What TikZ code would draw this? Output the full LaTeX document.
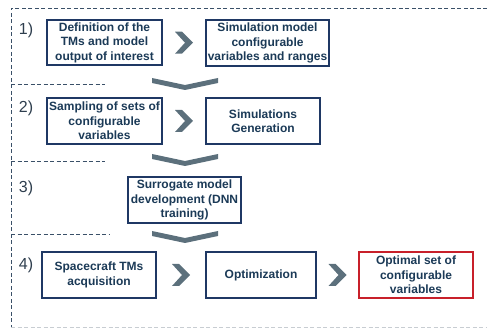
\documentclass[tikz,border=0pt]{standalone}
\usepackage{fontspec}
\setmainfont{Liberation Sans}
\usetikzlibrary{calc}
\definecolor{navy}{HTML}{1F3864}
\definecolor{txt}{HTML}{1B3A57}
\definecolor{chev}{HTML}{5C707C}
\definecolor{dash}{HTML}{3A5068}
\definecolor{lightdash}{HTML}{C8CDD2}
\definecolor{redbox}{HTML}{C8202A}
\definecolor{lbl}{HTML}{2E3E4E}
\tikzset{
  stepbox/.style={draw=navy,line width=1.6pt,fill=white,text=txt,align=center,
    font=\fontsize{12}{14.5}\selectfont\bfseries,inner sep=1pt},
  redstep/.style={stepbox,draw=redbox},
  lab/.style={text=lbl,font=\fontsize{16}{16}\selectfont,inner sep=0pt},
  dline/.style={draw=dash,line width=0.9pt,dash pattern=on 4pt off 2.5pt},
  rchev/.pic={\fill[chev] (-9,-11)--(-2,-11)--(9,0)--(-2,11)--(-9,11)--(1,0)--cycle;},
  dchev/.pic={\fill[chev] (-33,-6)--(0,1)--(33,-6)--(33,-1)--(0,6)--(-33,-1)--cycle;}
}
\begin{document}
\begin{tikzpicture}[x=1pt,y=-1pt]
\useasboundingbox (0,0) rectangle (487,328);
% frame
\coordinate (tl) at (11,8);
\coordinate (tr) at (487,8);
\coordinate (bl) at (11,328);
\coordinate (bl2) at (11,327);
\coordinate (br) at (487,327);
\draw[dline] (tr) -- (tl) -- (bl);
\draw[draw=lightdash,line width=0.9pt,dash pattern=on 4pt off 2.5pt] (bl2) -- (br);
\coordinate (s1a) at (11,84); \coordinate (s1b) at (105,84);
\coordinate (s2a) at (11,161); \coordinate (s2b) at (105,161);
\coordinate (s3a) at (11,234); \coordinate (s3b) at (110,234);
\draw[dline] (s1a) -- (s1b);
\draw[dline] (s2a) -- (s2b);
\draw[dline] (s3a) -- (s3b);
% labels
\node[lab] (l1) at (26,30) {1)};
\node[lab] (l2) at (26,108) {2)};
\node[lab] (l3) at (26,188) {3)};
\node[lab] (l4) at (26,265) {4)};
% boxes
\node[stepbox,minimum width=115pt,minimum height=45pt] (b1a) at (104.5,42.5) {Definition of the\\TMs and model\\output of interest};
\node[stepbox,minimum width=123pt,minimum height=46pt] (b1b) at (267.5,43) {Simulation model\\configurable\\variables and ranges};
\node[stepbox,minimum width=115pt,minimum height=46pt] (b2a) at (104.5,121) {Sampling of sets of\\configurable\\variables};
\node[stepbox,minimum width=114pt,minimum height=46pt] (b2b) at (263,121) {Simulations\\Generation};
\node[stepbox,minimum width=113pt,minimum height=46pt] (b3) at (184.5,200) {Surrogate model\\development (DNN\\training)};
\node[stepbox,minimum width=114pt,minimum height=46pt] (b4a) at (99,275) {Spacecraft TMs\\acquisition};
\node[stepbox,minimum width=110pt,minimum height=46pt] (b4b) at (261,275) {Optimization};
\node[redstep,minimum width=114pt,minimum height=46pt] (b4c) at (416,275) {Optimal set of\\configurable\\variables};
% chevrons
\pic at ($(b1a.east)!0.5!(b1b.west)$) {rchev};
\pic at ($(b2a.east)!0.5!(b2b.west)$) {rchev};
\pic at ($(b4a.east)!0.5!(b4b.west)$) {rchev};
\pic at ($(b4b.east)!0.5!(b4c.west)$) {rchev};
\pic at (185,84) {dchev};
\pic at (185,160) {dchev};
\pic at (185,237) {dchev};
\end{tikzpicture}
\end{document}
